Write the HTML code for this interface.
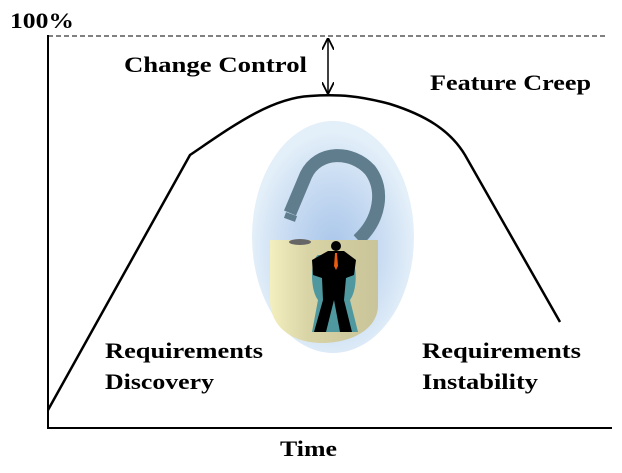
<!DOCTYPE html>
<html><head><style>
html,body{margin:0;padding:0;background:#fff;}
svg{display:block;}
text{font-family:"Liberation Serif",serif;font-weight:bold;font-size:22px;fill:#000;}
</style></head><body>
<svg width="622" height="473" viewBox="0 0 622 473">
<defs>
<radialGradient id="g" cx="50%" cy="55%" r="50%">
<stop offset="0" stop-color="#a9c6ea"/><stop offset="0.6" stop-color="#c9dcf2"/><stop offset="1" stop-color="#e3eff9"/>
</radialGradient>
<linearGradient id="lk" x1="0" x2="1"><stop offset="0" stop-color="#f3efbe"/><stop offset="0.35" stop-color="#d9d4a6"/><stop offset="1" stop-color="#c9c499"/></linearGradient>
<marker id="a" viewBox="0 0 10 10" refX="9" refY="5" markerWidth="8" markerHeight="8" orient="auto-start-reverse"><path d="M0,0 L10,5 L0,10" fill="none" stroke="#000" stroke-width="1.5"/></marker>
</defs>
<line x1="48" y1="36" x2="607" y2="36" stroke="#000" stroke-dasharray="5,3" stroke-width="1"/>
<line x1="48" y1="35" x2="48" y2="429" stroke="#000" stroke-width="2"/>
<line x1="47" y1="428" x2="612" y2="428" stroke="#000" stroke-width="2"/>
<text x="10" y="28" textLength="64" lengthAdjust="spacingAndGlyphs">100%</text>
<ellipse cx="333" cy="237" rx="81" ry="116" fill="url(#g)"/>
<path d="M48,410 L190,155 C230,128 270,98 310,96 C340,94 360,96 390,104 C425,115 450,130 465,155 L560,322" fill="none" stroke="#000" stroke-width="2.5"/>
<line x1="328" y1="39" x2="328" y2="93" stroke="#000" stroke-width="1.5" marker-start="url(#a)" marker-end="url(#a)"/>
<path d="M290,213 L306,175 C318,150 352,150 370,170 C385,190 380,220 358,240" fill="none" stroke="#5f7d8d" stroke-width="13" stroke-linejoin="miter"/>
<path d="M285,215 L296,219" stroke="#5f7d8d" stroke-width="6"/>
<path d="M270,240 L378,240 L378,305 C378,330 350,343 322,343 C290,343 270,325 270,300 Z" fill="url(#lk)"/>
<ellipse cx="300" cy="242" rx="11" ry="3" fill="#666"/>
<path d="M318,255 C310,260 310,290 318,300 L312,332 L358,332 L350,300 C358,290 358,260 348,255 Z" fill="#4f98a0"/>
<circle cx="336" cy="246" r="5" fill="#000"/>
<path d="M328,251 L344,251 L356,260 L354,275 L346,278 L344,300 L352,332 L340,332 L334,300 L326,332 L314,332 L323,300 L322,278 L313,275 L312,260 Z" fill="#000"/>
<path d="M335,253 L337,253 L338,266 L336,270 L334,266 Z" fill="#e85a10"/>
<text x="124" y="72" textLength="183" lengthAdjust="spacingAndGlyphs">Change Control</text>
<text x="430" y="90" textLength="161" lengthAdjust="spacingAndGlyphs">Feature Creep</text>
<text x="105" y="358" textLength="158" lengthAdjust="spacingAndGlyphs">Requirements</text>
<text x="105" y="389" textLength="109" lengthAdjust="spacingAndGlyphs">Discovery</text>
<text x="422" y="358" textLength="159" lengthAdjust="spacingAndGlyphs">Requirements</text>
<text x="422" y="389" textLength="116" lengthAdjust="spacingAndGlyphs">Instability</text>
<text x="280" y="456" textLength="57" lengthAdjust="spacingAndGlyphs">Time</text>
</svg>
</body></html>
